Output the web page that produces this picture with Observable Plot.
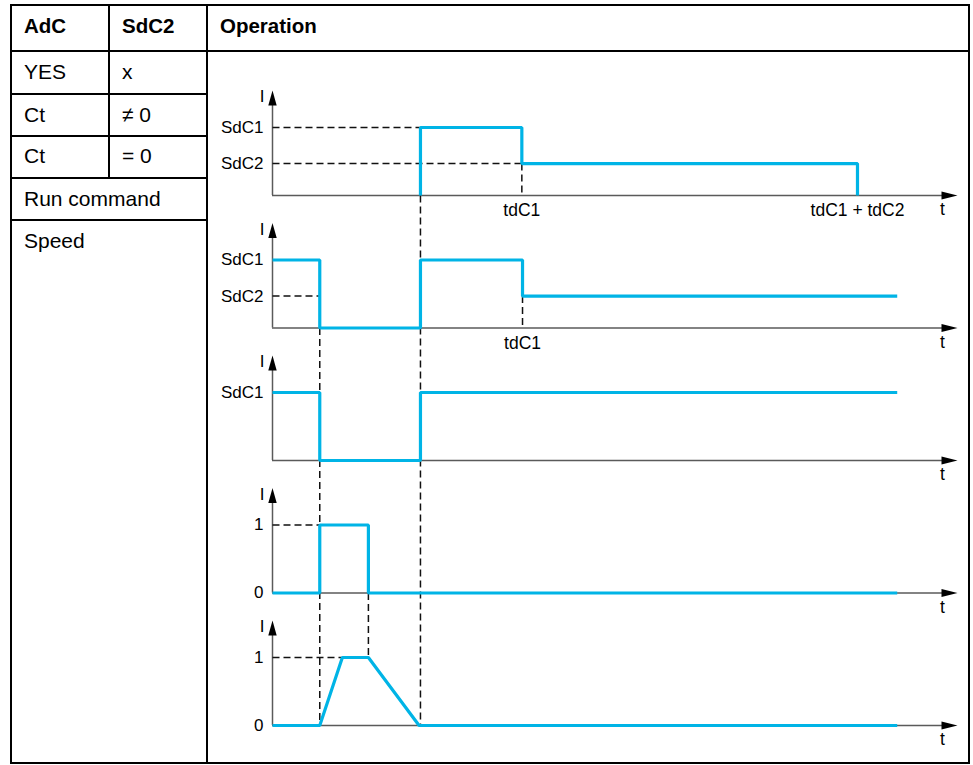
<!DOCTYPE html>
<html><head><meta charset="utf-8">
<script src="https://cdn.jsdelivr.net/npm/d3@7"></script>
<script src="https://cdn.jsdelivr.net/npm/@observablehq/plot@0.6"></script>
<style>
html,body{margin:0;padding:0;background:#fff;}
#page{position:relative;width:973px;height:765px;font-family:"Liberation Sans",Arial,sans-serif;overflow:hidden;}
.ln{position:absolute;background:#000;}
.tx{position:absolute;font-size:21px;line-height:24px;height:24px;color:#000;white-space:nowrap;}
.b{font-weight:bold;font-size:20.5px;}
#plot{position:absolute;left:0;top:0;}
</style></head><body>
<div id="page">
  <div class="ln" style="left:10px;top:4px;width:960px;height:2px"></div>
  <div class="ln" style="left:10px;top:762px;width:960px;height:2px"></div>
  <div class="ln" style="left:10px;top:4px;width:2px;height:760px"></div>
  <div class="ln" style="left:968px;top:4px;width:2px;height:760px"></div>
  <div class="ln" style="left:10px;top:50px;width:960px;height:2px"></div>
  <div class="ln" style="left:108px;top:4px;width:2px;height:174px"></div>
  <div class="ln" style="left:206px;top:4px;width:2px;height:760px"></div>
  <div class="ln" style="left:10px;top:93px;width:197px;height:2px"></div>
  <div class="ln" style="left:10px;top:135px;width:197px;height:2px"></div>
  <div class="ln" style="left:10px;top:177px;width:197px;height:2px"></div>
  <div class="ln" style="left:10px;top:219px;width:197px;height:2px"></div>
  <div id="cells"></div>
  <div id="plot"></div>
</div>
<script>
// ---- table content ----
const headers = ["AdC", "SdC2", "Operation"];
const rowLabels = ["YES", "Ct", "Ct", "Run command", "Speed"];
const rowValues = ["x", "≠ 0", "= 0", "", ""];

// ---- chart data ----
const G = 132.5 / 68;               // spacing between panel baselines (level units)
const base = k => -k * G;
const panels = [0, 1, 2, 3, 4];

// signal: time points and current levels for each panel
const tYES   = [21.6, 21.6, 36.4, 36.4, 85.4, 85.4];
const iYES   = [0, 1, 1, 0.47, 0.47, 0];
const tCtNZ  = [0, 6.9, 6.9, 21.6, 21.6, 36.5, 36.5, 91.2];
const iCtNZ  = [1, 1, 0, 0, 1, 1, 0.47, 0.47];
const tCt0   = [0, 6.9, 6.9, 21.6, 21.6, 91.2];
const iCt0   = [1, 1, 0, 0, 1, 1];
const tRun   = [0, 6.9, 6.9, 14.0, 14.0, 91.2];
const iRun   = [0, 0, 1, 1, 0, 0];
const tSpeed = [0, 6.9, 10.2, 14.0, 21.4, 91.2];
const iSpeed = [0, 0, 1, 1, 0, 0];

// level tick labels
const levelPanel = [0, 0, 1, 1, 2, 3, 3, 4, 4];
const levelValue = [1, 0.47, 1, 0.47, 1, 1, 0, 1, 0];
const levelText  = ["SdC1", "SdC2", "SdC1", "SdC2", "SdC1", "1", "0", "1", "0"];

// time tick labels
const timePanel = [0, 0, 1];
const timeValue = [36.4, 85.4, 36.5];
const timeText  = ["tdC1", "tdC1 + tdC2", "tdC1"];

// axis titles
const axisTitleX = "t";
const axisTitleY = "I";

// dashed guides
const hgPanel = [0, 0, 1, 3, 4];
const hgLevel = [1, 0.47, 0.47, 1, 1];
const hgEnd   = [21.6, 36.4, 6.9, 6.9, 10.2];
const vgT  = [36.4, 36.5, 21.6, 6.9, 14.0];
const vgP1 = [0, 1, 0, 1, 3], vgL1 = [0.47, 0.47, 0, 0, 0];
const vgP2 = [0, 1, 4, 4, 4], vgL2 = [0, 0, 0, 0, 1];

// ---- build table text ----
const cells = document.getElementById("cells");
function addText(txt, left, top, bold) {
  const d = document.createElement("div");
  d.className = "tx" + (bold ? " b" : "");
  d.style.left = left + "px"; d.style.top = top + "px";
  d.textContent = txt; cells.appendChild(d);
}
const headerX = [24, 122, 220];
headers.forEach((h, i) => addText(h, headerX[i], 14, true));
const rowTops = [60, 103, 144, 187, 229];
rowLabels.forEach((r, i) => { addText(r, 24, rowTops[i]); if (rowValues[i]) addText(rowValues[i], 122, rowTops[i]); });

// ---- build chart rows ----
const sigT = [tYES, tCtNZ, tCt0, tRun, tSpeed];
const sigI = [iYES, iCtNZ, iCt0, iRun, iSpeed];
const sigRows = panels.flatMap(p => sigT[p].map((t, j) => ({p, t, y: base(p) + sigI[p][j]})));
const levelRows = levelText.map((text, i) => ({text, y: base(levelPanel[i]) + levelValue[i]}));
const timeRows = timeText.map((text, i) => ({text, x: timeValue[i], y: base(timePanel[i])}));
const hRows = hgPanel.map((p, i) => ({x1: 0, x2: hgEnd[i], y1: base(p) + hgLevel[i], y2: base(p) + hgLevel[i]}));
const vRows = vgT.map((t, i) => ({x1: t, x2: t, y1: base(vgP1[i]) + vgL1[i], y2: base(vgP2[i]) + vgL2[i]}));
const dashRows = hRows.concat(vRows);

const arrowRight = {draw(c) { c.moveTo(0, 0); c.lineTo(-16, -4); c.lineTo(-16, 4); c.closePath(); }};
const arrowUp = {draw(c) { c.moveTo(0, 0); c.lineTo(-4.2, 15); c.lineTo(4.2, 15); c.closePath(); }};
const tipY = 1.544;

const chart = Plot.plot({
  width: 973, height: 765,
  x: {domain: [0, 100], range: [272, 957], axis: null},
  y: {domain: [-8.382, 2.868], range: [765, 0], axis: null},
  style: {fontFamily: "Liberation Sans, Arial, sans-serif", background: "transparent", overflow: "visible"},
  marks: [
    Plot.ruleY(panels, {y: p => base(p), x1: 0, x2: 98, stroke: "#5a5a5a", strokeWidth: 1.5}),
    Plot.ruleX(panels, {x: 0, y1: p => base(p), y2: p => base(p) + tipY - 0.15, stroke: "#5a5a5a", strokeWidth: 1.5}),
    Plot.link(dashRows, {x1: "x1", y1: "y1", x2: "x2", y2: "y2", stroke: "#111", strokeWidth: 1.5, strokeDasharray: "7,4"}),
    Plot.line(sigRows, {x: "t", y: "y", z: "p", stroke: "#00B4E6", strokeWidth: 3.2, strokeLinejoin: "miter", strokeLinecap: "butt"}),
    Plot.dot(panels, {x: 100, y: p => base(p), symbol: arrowRight, fill: "#000", stroke: null}),
    Plot.dot(panels, {x: 0, y: p => base(p) + tipY, symbol: arrowUp, fill: "#000", stroke: null}),
    Plot.text(levelRows, {x: 0, y: "y", text: "text", textAnchor: "end", dx: -9, fontSize: 17, fill: "#000"}),
    Plot.text(panels, {x: 0, y: p => base(p) + 1.45, text: () => axisTitleY, textAnchor: "end", dx: -8, fontSize: 17, fill: "#000"}),
    Plot.text(timeRows, {x: "x", y: "y", text: "text", dy: 15, fontSize: 17.5, fill: "#000"}),
    Plot.text(panels, {x: 97.8, y: p => base(p), text: () => axisTitleX, dy: 14, fontSize: 17.5, fill: "#000"})
  ]
});
document.getElementById("plot").appendChild(chart);
</script>
</body></html>
